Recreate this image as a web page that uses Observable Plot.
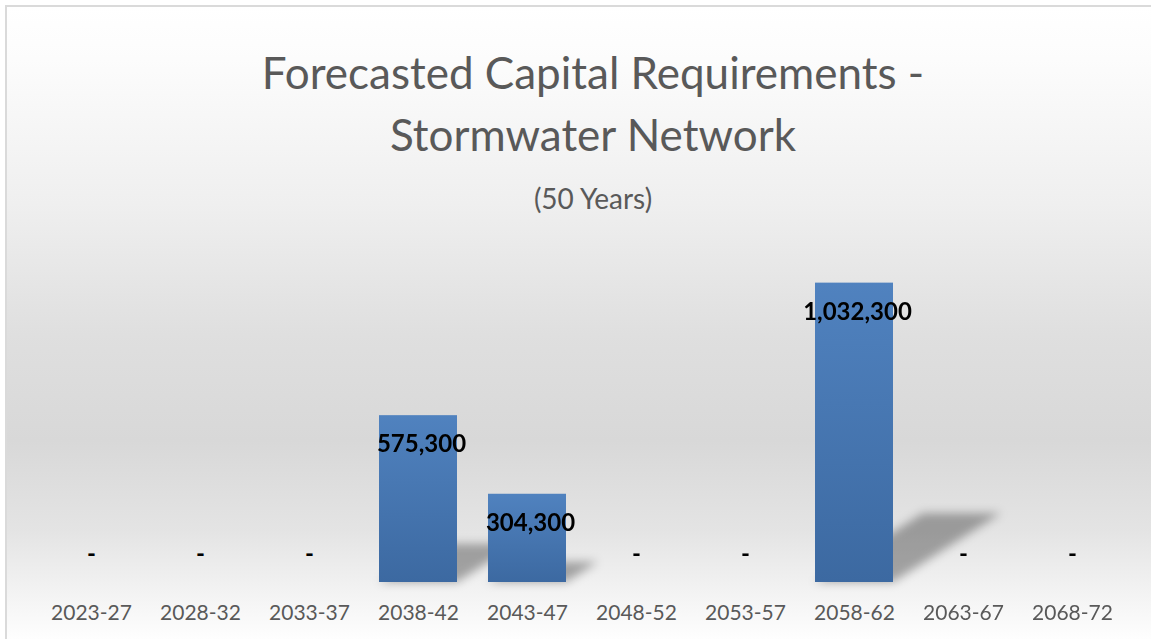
<!DOCTYPE html>
<html>
<head>
<meta charset="utf-8">
<script src="https://cdn.jsdelivr.net/npm/d3@7"></script>
<script src="https://cdn.jsdelivr.net/npm/@observablehq/plot@0.6"></script>
<style>
  html, body { margin: 0; padding: 0; background: #ffffff; overflow: hidden; }
  #page { position: relative; width: 1151px; height: 639px; overflow: hidden; font-family: Lato, "Open Sans", sans-serif; }
  #box {
    position: absolute; left: 5px; top: 5px; width: 1180px; height: 660px;
    border: 2px solid #dadada; box-sizing: border-box;
    background: linear-gradient(to bottom, #ffffff 0%, #fcfcfc 8%, #efefef 30%, #dfdfdf 50%, #d8d8d8 66%, #e4e4e4 80%, #f4f4f4 90%, #ffffff 97%);
  }
  .t { position: absolute; left: 0; width: 1186px; text-align: center; color: #595959; white-space: nowrap; line-height: 1; }
  #t1 { top: 50px; font-size: 44px; }
  #t2 { top: 112px; font-size: 44px; }
  #t3 { top: 184px; font-size: 28px; }
  #chart { position: absolute; left: 0; top: 220px; }
</style>
</head>
<body>
<div id="page">
  <div id="box"></div>
  <div class="t" id="t1">Forecasted Capital Requirements -</div>
  <div class="t" id="t2">Stormwater Network</div>
  <div class="t" id="t3">(50 Years)</div>
  <div id="chart"></div>
</div>
<script>
const periods = ["2023-27", "2028-32", "2033-37", "2038-42", "2043-47", "2048-52", "2053-57", "2058-62", "2063-67", "2068-72"];
const values = [0, 0, 0, 575300, 304300, 0, 0, 1032300, 0, 0];
const yMax = 1200000;

const data = periods.map((p, i) => ({period: p, value: values[i]}));
const fmt = d3.format(",");

const plot = Plot.plot({
  width: 1151,
  height: 419,
  marginTop: 14,
  marginBottom: 57,
  marginLeft: 34,
  marginRight: 21,
  style: {background: "transparent", fontFamily: "Lato, 'Open Sans', sans-serif", overflow: "visible"},
  x: {domain: periods, paddingInner: 0.28, paddingOuter: 0.14},
  y: {domain: [0, yMax], axis: null},
  marks: [
    Plot.barY(data.filter(d => d.value > 0), {x: "period", y: "value", fill: "#000000", fillOpacity: 0.32, className: "shadowbars", ariaLabel: "shadowbars"}),
    Plot.barY(data, {x: "period", y: "value", fill: "url(#barGrad)", className: "mainbars"}),
    Plot.text(data.filter(d => d.value > 0), {x: "period", y: "value", text: d => fmt(d.value), dx: 3, dy: 29, fontSize: 24, fontWeight: "bold", fill: "#000000"}),
    Plot.text(data.filter(d => d.value === 0), {x: "period", y: "value", text: () => "-", dy: -28, fontSize: 24, fontWeight: "bold", fill: "#000000"}),
    Plot.axisX({tickSize: 0, tickPadding: 23, fontSize: 21, fill: "#595959", label: null})
  ]
});

// defs: bar gradient and shadow blur
const svg = d3.select(plot.tagName.toLowerCase() === "svg" ? plot : plot.querySelector("svg"));
const defs = svg.insert("defs", ":first-child");
const g = defs.append("linearGradient").attr("id", "barGrad").attr("x1", 0).attr("y1", 0).attr("x2", 0).attr("y2", 1);
g.append("stop").attr("offset", "0%").attr("stop-color", "#5082bf");
g.append("stop").attr("offset", "100%").attr("stop-color", "#3c69a1");
const f = defs.append("filter").attr("id", "shadowBlur").attr("x", "-20%").attr("y", "-30%").attr("width", "140%").attr("height", "160%");
f.append("feGaussianBlur").attr("stdDeviation", 5);

let shadowG = svg.select("g.shadowbars");
if (shadowG.empty()) shadowG = svg.select("g[aria-label='shadowbars']");
shadowG.attr("filter", "url(#shadowBlur)");
const k = 0.36, s = 0.23;
shadowG.selectAll("rect").each(function() {
  const r = d3.select(this);
  const y0 = +r.attr("y") + +r.attr("height");
  r.attr("transform", `matrix(1,0,${-k},${s},${k * y0},${y0 * (1 - s)})`);
});

document.getElementById("chart").appendChild(plot);
</script>
</body>
</html>
